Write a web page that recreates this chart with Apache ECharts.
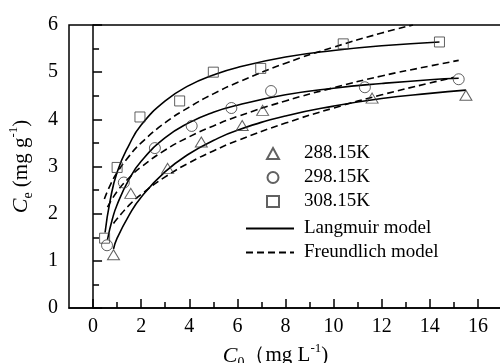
<!DOCTYPE html>
<html>
<head>
<meta charset="utf-8">
<script src="https://cdn.jsdelivr.net/npm/echarts@6/dist/echarts.min.js"></script>
<style>html,body{margin:0;padding:0;background:#fff}#c{width:500px;height:363px}</style>
</head>
<body>
<div id="c"></div>
<script>
// ---- data ----
const seriesNames = ['288.15K', '298.15K', '308.15K'];
const modelNames = ['Langmuir model', 'Freundlich model'];
const xTickValues = [0, 2, 4, 6, 8, 10, 12, 14, 16];
const xMinorTickValues = [1, 3, 5, 7, 9, 11, 13, 15];

const exp288 = [[0.85,1.13],[1.57,2.43],[3.1,2.96],[4.5,3.52],[6.2,3.87],[7.05,4.19],[11.6,4.45],[15.5,4.51]];
const exp298 = [[0.58,1.33],[1.28,2.66],[2.57,3.39],[4.1,3.86],[5.75,4.24],[7.4,4.6],[11.3,4.68],[15.2,4.85]];
const exp308 = [[0.48,1.48],[1.0,2.98],[1.95,4.05],[3.6,4.39],[5.0,5.0],[6.97,5.08],[10.4,5.6],[14.4,5.64]];

const lang288 = [[0.85,1.25],[1,1.48],[1.5,1.97],[2,2.35],[3,2.89],[4,3.27],[5,3.55],[6,3.77],[8,4.07],[10,4.28],[12,4.44],[14,4.55],[15.5,4.62]];
const lang298 = [[0.6,1.45],[0.8,1.88],[1,2.19],[1.5,2.73],[2,3.11],[3,3.61],[4,3.93],[5,4.15],[6,4.3],[8,4.52],[10,4.66],[12,4.76],[14,4.84],[15.2,4.87]];
const lang308 = [[0.5,1.6],[0.7,2.25],[1,2.88],[1.5,3.46],[2,3.88],[3,4.39],[4,4.72],[5,4.94],[6,5.1],[8,5.32],[10,5.46],[12,5.56],[14.4,5.64]];

const freu288 = [[0.85,1.79],[1,1.89],[1.5,2.18],[2,2.41],[3,2.78],[4,3.08],[5,3.33],[6,3.55],[8,3.92],[10,4.24],[12,4.52],[14,4.77],[15,4.89]];
const freu298 = [[0.6,2.14],[1,2.47],[1.5,2.76],[2,2.99],[3,3.35],[4,3.63],[5,3.86],[6,4.06],[8,4.39],[10,4.67],[12,4.92],[14,5.13],[15.2,5.25]];
const freu308 = [[0.47,2.31],[0.7,2.59],[1,2.87],[1.5,3.22],[2,3.5],[3,3.93],[4,4.26],[5,4.54],[6,4.78],[8,5.19],[10,5.53],[12,5.83],[13.3,6.0]];

// ---- chart ----
const SERIF = 'Liberation Serif';
const richName = {
  i: {fontFamily: SERIF, fontStyle: 'italic', fontSize: 22, lineHeight: 28, color: '#000'},
  n: {fontFamily: SERIF, fontSize: 21, lineHeight: 28, color: '#000'},
  sub: {fontFamily: SERIF, fontSize: 14, lineHeight: 13, verticalAlign: 'bottom', color: '#000'},
  sup: {fontFamily: SERIF, fontSize: 13, lineHeight: 13, verticalAlign: 'top', color: '#000'}
};
const legendText = (padLeft) => ({
  fontFamily: SERIF, fontSize: 19, color: '#000',
  rich: {p: {fontFamily: SERIF, fontSize: 19, color: '#000', padding: [0, 0, 0, padLeft]}}
});

const markerStyle = {color: 'rgba(255,255,255,0)', borderColor: '#3a3a3a', borderWidth: 1};
const scatter = (name, data, symbol, size) => ({
  name, type: 'scatter', data, symbol, symbolSize: size, z: 5,
  itemStyle: markerStyle
});
const model = (name, data, dashed) => ({
  name, type: 'line', data, smooth: true, symbol: 'none', showSymbol: false, z: 3,
  lineStyle: {color: '#000', width: 1.6, type: dashed ? [7, 4] : 'solid'},
  itemStyle: {color: '#000'}
});

const chart = echarts.init(document.getElementById('c'), null, {renderer: 'canvas'});
chart.setOption({
  animation: false,
  backgroundColor: '#fff',
  grid: {left: 69, top: 25, right: -2, bottom: 55, containLabel: false, outerBoundsMode: 'none',
         show: true, borderColor: '#000', borderWidth: 1.5, backgroundColor: 'rgba(0,0,0,0)'},
  legend: [{
    orient: 'vertical', left: 266, top: 144, padding: 0, itemWidth: 12, itemHeight: 11, itemGap: 5,
    formatter: '{p|{name}}', textStyle: legendText(20),
    data: seriesNames
  }, {
    orient: 'vertical', left: 245, top: 219, padding: 0, itemWidth: 48, itemHeight: 12, itemGap: 5,
    formatter: '{p|{name}}', textStyle: legendText(5),
    data: [
      {name: modelNames[0], itemStyle: {opacity: 0}},
      {name: modelNames[1], itemStyle: {opacity: 0}}
    ]
  }],
  xAxis: [{
    type: 'value', min: -1, max: 17, interval: 1,
    axisLine: {lineStyle: {color: '#000', width: 1.5}},
    axisTick: {inside: true, length: 9, lineStyle: {color: '#000', width: 1.5}, customValues: xTickValues},
    axisLabel: {fontFamily: SERIF, fontSize: 20, color: '#000', margin: 9, customValues: xTickValues},
    splitLine: {show: false},
    name: '{i|C}{sub|0}{n|\uFF08mg L}{sup|-1}{n|)}',
    nameLocation: 'middle', nameGap: 25,
    nameTextStyle: {rich: richName, padding: [0, 20, 0, 0]}
  }, {
    type: 'value', min: -1, max: 17, interval: 1, position: 'bottom',
    axisLine: {show: false},
    axisTick: {inside: true, length: 6, lineStyle: {color: '#000', width: 1.5}, customValues: xMinorTickValues},
    axisLabel: {show: false},
    splitLine: {show: false}
  }],
  yAxis: {
    type: 'value', min: 0, max: 6, interval: 1,
    axisLine: {show: true, lineStyle: {color: '#000', width: 1.5}},
    axisTick: {show: true, inside: true, length: 9, lineStyle: {color: '#000', width: 1.5}},
    minorTick: {show: true, splitNumber: 2, length: 6, lineStyle: {color: '#000', width: 1.5}},
    axisLabel: {fontFamily: SERIF, fontSize: 20, color: '#000', margin: 11},
    splitLine: {show: false},
    name: '{i|C}{sub|e}{n| (mg g}{sup|-1}{n|)}',
    nameLocation: 'middle', nameRotate: 90, nameGap: 34,
    nameTextStyle: {rich: richName}
  },
  series: [
    model(modelNames[0], lang288, false),
    model(modelNames[0], lang298, false),
    model(modelNames[0], lang308, false),
    model(modelNames[1], freu288, true),
    model(modelNames[1], freu298, true),
    model(modelNames[1], freu308, true),
    scatter(seriesNames[0], exp288, 'triangle', [12, 10]),
    scatter(seriesNames[1], exp298, 'circle', 11),
    scatter(seriesNames[2], exp308, 'rect', 10)
  ]
});
</script>
</body>
</html>
